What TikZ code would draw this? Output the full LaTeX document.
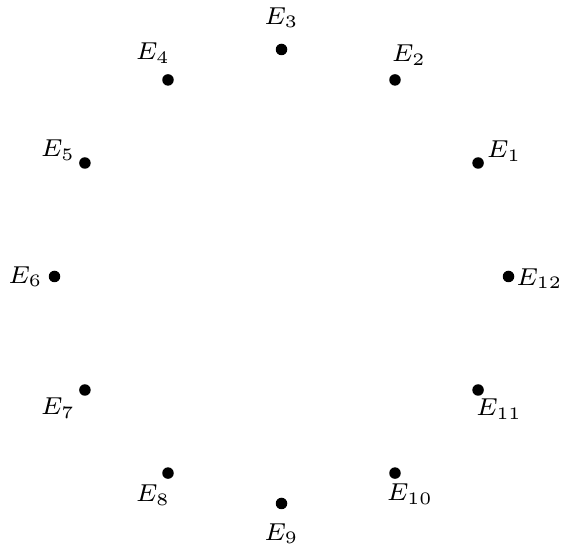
\documentclass[tikz,border=0pt]{standalone}
\usetikzlibrary{calc}
\newcommand\elab[1]{\scalebox{3.5}{\scriptsize$E_{#1}$}}
\begin{document}
\begin{tikzpicture}[x=1pt,y=1pt,
  pt/.style={circle,fill=black,inner sep=0pt,minimum size=11.5pt},
  lab/.style={inner sep=0pt,anchor=center}]
\useasboundingbox (0,0) rectangle (563,546);
\coordinate (c) at (281.5,269.5);
\node[pt] (e1)  at ($(c)+(30:227)$) {};
\node[pt] (e2)  at ($(c)+(60:227)$) {};
\node[pt] (e3)  at ($(c)+(90:227)$) {};
\node[pt] (e4)  at ($(c)+(120:227)$) {};
\node[pt] (e5)  at ($(c)+(150:227)$) {};
\node[pt] (e6)  at ($(c)+(180:227)$) {};
\node[pt] (e7)  at ($(c)+(210:227)$) {};
\node[pt] (e8)  at ($(c)+(240:227)$) {};
\node[pt] (e9)  at ($(c)+(270:227)$) {};
\node[pt] (e10) at ($(c)+(300:227)$) {};
\node[pt] (e11) at ($(c)+(330:227)$) {};
\node[pt] (e12) at ($(c)+(0:227)$) {};
\node[lab] (l1)  at ($(e1)+(26,12)$)   {\elab{1}};
\node[lab] (l2)  at ($(e2)+(14,25)$)   {\elab{2}};
\node[lab] (l3)  at ($(e3)+(0,32)$)    {\elab{3}};
\node[lab] (l4)  at ($(e4)+(-15,27)$)  {\elab{4}};
\node[lab] (l5)  at ($(e5)+(-27,13)$)  {\elab{5}};
\node[lab] (l6)  at ($(e6)+(-29,0)$)   {\elab{6}};
\node[lab] (l7)  at ($(e7)+(-27,-18)$) {\elab{7}};
\node[lab] (l8)  at ($(e8)+(-15,-22)$) {\elab{8}};
\node[lab] (l9)  at ($(e9)+(0,-30)$)   {\elab{9}};
\node[lab] (l10) at ($(e10)+(15,-21)$) {\elab{10}};
\node[lab] (l11) at ($(e11)+(21,-19)$) {\elab{11}};
\node[lab] (l12) at ($(e12)+(31,-2)$)  {\elab{12}};
\end{tikzpicture}
\end{document}
